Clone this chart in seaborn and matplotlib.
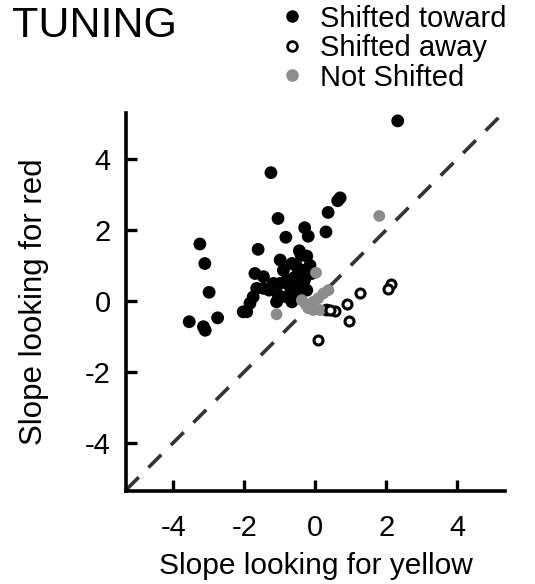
import matplotlib
matplotlib.use("Agg")
import matplotlib.pyplot as plt
from matplotlib.lines import Line2D
import seaborn as sns
import pandas as pd

# 数据
toward_x = [2.32, -1.25, 0.70, 0.63, 0.36, -1.05, -0.30, 0.30, -0.20, -0.83,
            -3.25, -1.61, -3.11, -0.99, -0.45, -0.40, -0.24, -0.15, -2.99, -2.75,
            -3.55, -3.15, -3.10, -2.03, -1.93, -1.84, -1.75, -1.65, -1.70, -1.46,
            -0.90, -0.66, -0.52, -0.48, -0.38, -0.10, -1.18, -0.99, -0.81, -0.71,
            -1.46, -0.52, -0.34, -0.24, -1.04, -0.81, -0.62, -1.09, -0.66, -0.43,
            0.32, -0.60, -0.30, -1.30]
toward_y = [5.07, 3.61, 2.90, 2.82, 2.49, 2.32, 2.06, 1.94, 1.82, 1.79,
            1.60, 1.45, 1.05, 1.15, 1.41, 1.28, 1.26, 1.00, 0.24, -0.48,
            -0.59, -0.73, -0.83, -0.31, -0.31, -0.07, 0.11, 0.35, 0.77, 0.68,
            0.86, 1.05, 0.96, 0.77, 0.86, 0.77, 0.49, 0.49, 0.58, 0.39,
            0.35, 0.44, 0.49, 0.30, 0.16, 0.11, 0.25, -0.03, -0.03, 0.21,
            -0.26, 0.65, 0.60, 0.30]

not_x = [1.80, 0.02, -1.09, -0.38, -0.27, -0.20, -0.06, 0.13, 0.08, 0.23, 0.37, -0.06]
not_y = [2.39, 0.79, -0.38, 0.02, -0.10, -0.21, -0.26, -0.26, 0.07, 0.21, 0.30, -0.03]

away_x = [0.55, 0.42, 0.88, 1.27, 0.94, 0.08, 2.13, 2.04]
away_y = [-0.30, -0.27, -0.10, 0.23, -0.58, -1.10, 0.46, 0.34]

ticks = [-4, -2, 0, 2, 4]
labels = ["Shifted toward", "Shifted away", "Not Shifted"]

sns.set_theme(style="ticks")
plt.rcParams["font.family"] = ["Liberation Sans", "DejaVu Sans"]
plt.rcParams["text.color"] = "black"

fig = plt.figure(figsize=(5.35, 5.84), dpi=100)
ax = fig.add_axes([0.2355, 0.1598, 0.7084, 0.646])

df_t = pd.DataFrame({"x": toward_x, "y": toward_y})
df_n = pd.DataFrame({"x": not_x, "y": not_y})
df_a = pd.DataFrame({"x": away_x, "y": away_y})

sns.scatterplot(data=df_t, x="x", y="y", ax=ax, color="black", s=85,
                edgecolor="none", zorder=3)
sns.scatterplot(data=df_n, x="x", y="y", ax=ax, color="#8c8c8c", s=72,
                edgecolor="none", zorder=4)
sns.scatterplot(data=df_a, x="x", y="y", ax=ax, color="white", s=42,
                edgecolor="black", linewidth=2.2, zorder=5)

# 对角参考线
ax.axline((0, 0), slope=1, color="#333333", lw=2.6, ls=(0, (5, 3.8)), zorder=2)

ax.set_xlim(-5.33, 5.34)
ax.set_ylim(-5.35, 5.28)
ax.set_xticks(ticks)
ax.set_yticks(ticks)
ax.set_xticklabels([str(t) for t in ticks])
ax.set_yticklabels([str(t) for t in ticks])
sns.despine(ax=ax)
for s in ["left", "bottom"]:
    ax.spines[s].set_linewidth(2.6)
    ax.spines[s].set_color("black")
ax.tick_params(direction="in", length=8, width=2.4, labelsize=21, colors="black")
ax.tick_params(axis="x", pad=17)
ax.tick_params(axis="y", pad=11)
ax.set_xlabel("Slope looking for yellow", fontsize=21.5, labelpad=7, color="black")
ax.set_ylabel("Slope looking for red", fontsize=22.5, labelpad=26, color="black")

fig.text(0.022, 0.99, "TUNING", fontsize=31, va="top", ha="left")

handles = [
    Line2D([], [], ls="none", marker="o", ms=8, mfc="black", mec="black"),
    Line2D([], [], ls="none", marker="o", ms=7, mfc="white", mec="black", mew=2),
    Line2D([], [], ls="none", marker="o", ms=8, mfc="#8c8c8c", mec="#8c8c8c"),
]
fig.legend(handles, labels, loc="upper left", bbox_to_anchor=(0.503, 1.012),
           frameon=False, fontsize=21, labelspacing=0.05, handlelength=0.8,
           handletextpad=0.55, borderaxespad=0)

fig.savefig("out.png", dpi=100)
